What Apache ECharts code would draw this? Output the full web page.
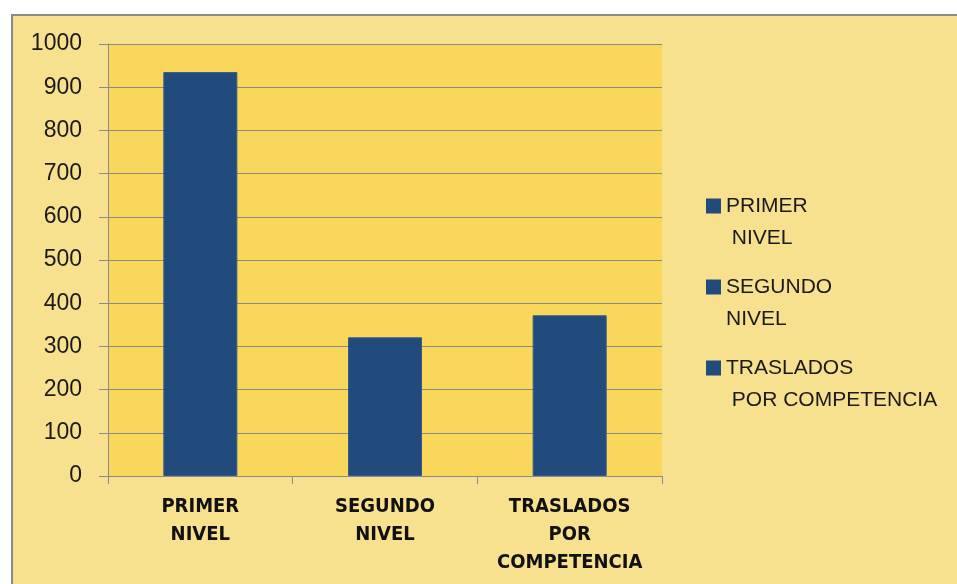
<!DOCTYPE html>
<html><head><meta charset="utf-8">
<script src="https://cdn.jsdelivr.net/npm/echarts@6/dist/echarts.min.js"></script>
<style>html,body{margin:0;padding:0;background:#fff}#c{width:957px;height:584px}</style>
</head><body><div id="c"></div>
<script>
const categories = ['PRIMER\nNIVEL', 'SEGUNDO\nNIVEL', 'TRASLADOS\nPOR\nCOMPETENCIA'];
const legendNames = ['PRIMER\n NIVEL', 'SEGUNDO\nNIVEL', 'TRASLADOS\n POR COMPETENCIA'];
const values = [935, 321, 372];
const yTicks = [0, 100, 200, 300, 400, 500, 600, 700, 800, 900, 1000];

const barColor = '#224B7D';
const series = legendNames.map((name, i) => ({
  name: name,
  type: 'bar',
  stack: 'all',
  barWidth: 74,
  itemStyle: { color: barColor, borderColor: '#35598a', borderWidth: 1 },
  data: categories.map((c, j) => (j === i ? values[i] : '-'))
}));

const chart = echarts.init(document.getElementById('c'));
chart.setOption({
  backgroundColor: '#ffffff',
  animation: false,
  graphic: [{
    type: 'rect', silent: true, z: -10,
    shape: { x: 12, y: 15, width: 960, height: 600 },
    style: { fill: '#F7E08E', stroke: '#8a8a8a', lineWidth: 2 }
  }],
  grid: {
    left: 108, right: 295, top: 44, bottom: 108,
    show: true, backgroundColor: '#F9D75B', borderWidth: 0
  },
  legend: {
    orient: 'vertical',
    left: 701, top: 185,
    itemWidth: 15, itemHeight: 47,
    itemGap: 17,
    icon: 'path://M0,0L15,0L15,15L0,15Z M0,47',
    itemStyle: { color: barColor, borderWidth: 0 },
    data: legendNames,
    textStyle: {
      fontFamily: "'Liberation Sans', Arial, sans-serif",
      fontSize: 21, color: '#1a1a1a', lineHeight: 32
    }
  },
  xAxis: {
    type: 'category',
    data: categories,
    axisLine: { lineStyle: { color: '#8a8a8a', width: 1 } },
    axisTick: { show: true, length: 8, alignWithLabel: false, lineStyle: { color: '#8a8a8a' } },
    axisLabel: {
      margin: 17, interval: 0,
      fontFamily: "'DejaVu Sans Condensed', 'Liberation Sans Narrow', sans-serif",
      fontWeight: 'bold', fontSize: 20, lineHeight: 28, color: '#111'
    }
  },
  yAxis: {
    type: 'value',
    min: yTicks[0], max: yTicks[yTicks.length - 1], interval: 100,
    axisLine: { show: true, lineStyle: { color: '#8a8a8a', width: 1 } },
    axisTick: { show: true, length: 9, lineStyle: { color: '#8a8a8a' } },
    splitLine: { lineStyle: { color: '#8a8a8a', width: 1 } },
    axisLabel: {
      margin: 26,
      formatter: (v) => String(v),
      fontFamily: "'Liberation Sans', Arial, sans-serif",
      fontSize: 23, color: '#1a1a1a'
    }
  },
  series: series
});
</script></body></html>
